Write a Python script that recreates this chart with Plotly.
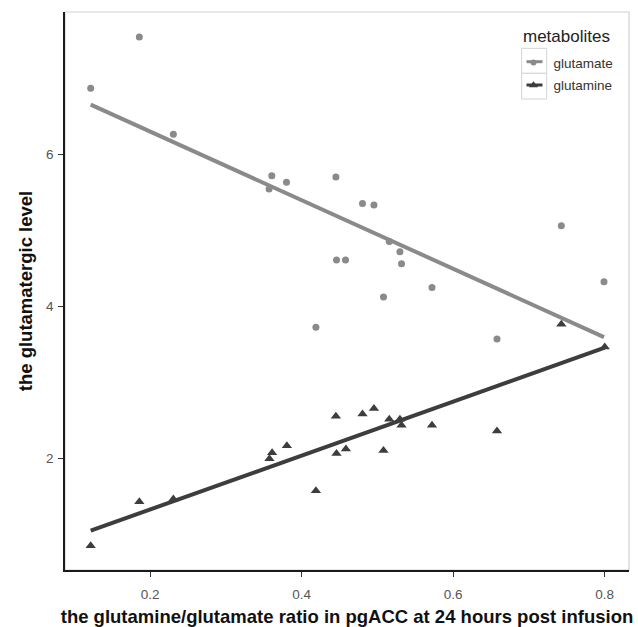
import numpy as np
import plotly.graph_objects as go

# ---- data ----
ratio = [0.1216, 0.1858, 0.2307, 0.3606, 0.3570, 0.3800, 0.4452, 0.4460, 0.4579, 0.4803,
         0.4954, 0.5156, 0.5297, 0.5318, 0.5080, 0.5720, 0.4188, 0.6578, 0.7427, 0.7990]
glutamate = [6.865, 7.54, 6.26, 5.715, 5.54, 5.63, 5.70, 4.605, 4.605, 5.35,
             5.33, 4.85, 4.715, 4.557, 4.12, 4.245, 3.72, 3.566, 5.056, 4.32]
ratio_gln = [0.1216, 0.1858, 0.2307, 0.3575, 0.3610, 0.3805, 0.4452, 0.4460, 0.4584, 0.4803,
             0.4954, 0.5156, 0.5297, 0.5318, 0.5080, 0.5720, 0.4188, 0.6578, 0.7427, 0.8000]
glutamine = [0.846, 1.425, 1.46, 1.99, 2.07, 2.16, 2.55, 2.06, 2.12, 2.58,
             2.65, 2.51, 2.51, 2.43, 2.10, 2.43, 1.57, 2.355, 3.76, 3.46]

series_names = ["glutamate", "glutamine"]
x_ticks = [0.2, 0.4, 0.6, 0.8]
y_ticks = [2, 4, 6]

C_GLU = "#8a8a8a"
C_GLN = "#3d3d3d"
FONT = "Arial, Liberation Sans, sans-serif"

# plot-area geometry (pixels) used to place legend decorations
L, R, T, B = 65, 9, 12, 57
W, H = 638, 627
PW, PH = W - L - R, H - T - B


def px_x(px):
    return (px - L) / PW


def px_y(py):
    return (H - B - py) / PH


def fit_line(x, y):
    x = np.asarray(x); y = np.asarray(y)
    b, a = np.polyfit(x, y, 1)
    xs = np.array([x.min(), x.max()])
    return xs, a + b * xs


fig = go.Figure()

for name, xs, ys, color, sym, msize in [
    (series_names[0], ratio, glutamate, C_GLU, "circle", 7),
    (series_names[1], ratio_gln, glutamine, C_GLN, "triangle-up", 9),
]:
    lx, ly = fit_line(xs, ys)
    fig.add_trace(go.Scatter(x=lx, y=ly, mode="lines",
                             line=dict(color=color, width=4),
                             showlegend=False, legendgroup=name, hoverinfo="skip"))
    fig.add_trace(go.Scatter(x=xs, y=ys, mode="markers",
                             marker=dict(color=color, size=msize, symbol=sym, line=dict(width=0)),
                             showlegend=False, legendgroup=name, name=name))
    fig.add_trace(go.Scatter(x=[None], y=[None], mode="markers", name=name,
                             legendgroup=name,
                             marker=dict(color=color, size=msize - 1, symbol=sym)))

# legend key boxes and key line segments (ggplot-style legend keys)
shapes = [dict(type="rect", xref="x domain", yref="y domain", x0=0, x1=1, y0=0, y1=1,
               line=dict(color="#cfcfcf", width=1.2), layer="below")]
for (y0, y1, yc, col) in [(48.3, 73.3, 61.7, C_GLU), (73.3, 99.0, 85.0, C_GLN)]:
    shapes.append(dict(type="rect", xref="paper", yref="paper",
                       x0=px_x(521.7), x1=px_x(546.7), y0=px_y(y1), y1=px_y(y0),
                       line=dict(color="#d4d4d4", width=1), fillcolor="white", layer="above"))
    shapes.append(dict(type="line", xref="paper", yref="paper",
                       x0=px_x(526.5), x1=px_x(542.5), y0=px_y(yc), y1=px_y(yc),
                       line=dict(color=col, width=3), layer="above"))

fig.update_layout(
    width=W, height=H,
    margin=dict(l=L, r=R, t=T, b=B, autoexpand=False),
    paper_bgcolor="white", plot_bgcolor="white",
    font=dict(family=FONT, color="black"),
    showlegend=True,
    legend=dict(
        font=dict(size=13.5, color="#333"),
        x=px_x(513.5), xanchor="left", y=px_y(47.3), yanchor="top",
        bgcolor="rgba(255,255,255,0)", tracegroupgap=2,
        itemwidth=30,
    ),
    shapes=shapes,
    annotations=[dict(text="metabolites", xref="paper", yref="paper",
                      x=px_x(520.5), y=px_y(36.7), xanchor="left", yanchor="middle",
                      showarrow=False, font=dict(size=17, color="#222"))],
)

fig.update_xaxes(
    range=[0.0877, 0.832], tickvals=x_ticks, ticktext=[f"{v:.1f}" for v in x_ticks],
    showgrid=False, zeroline=False, showline=True, linecolor="#1a1a1a", linewidth=1.5,
    ticks="outside", ticklen=5, tickwidth=1.3, tickcolor="#333", automargin=False,
    tickfont=dict(size=13.5, color="#555"), ticklabelstandoff=6,
    title=dict(text="<b>the glutamine/glutamate ratio in pgACC at 24 hours post infusion</b>",
               font=dict(size=18.5, color="#111"), standoff=9),
)
fig.update_yaxes(
    range=[0.526, 7.87], tickvals=y_ticks, ticktext=[str(v) for v in y_ticks],
    showgrid=False, zeroline=False, showline=True, linecolor="#1a1a1a", linewidth=1.5,
    ticks="outside", ticklen=5, tickwidth=1.3, tickcolor="#333", automargin=False,
    tickfont=dict(size=13.5, color="#555"), ticklabelstandoff=2,
    title=dict(text="<b>the glutamatergic level</b>", font=dict(size=18.5, color="#111"), standoff=9),
)

fig.write_html("out.html")
